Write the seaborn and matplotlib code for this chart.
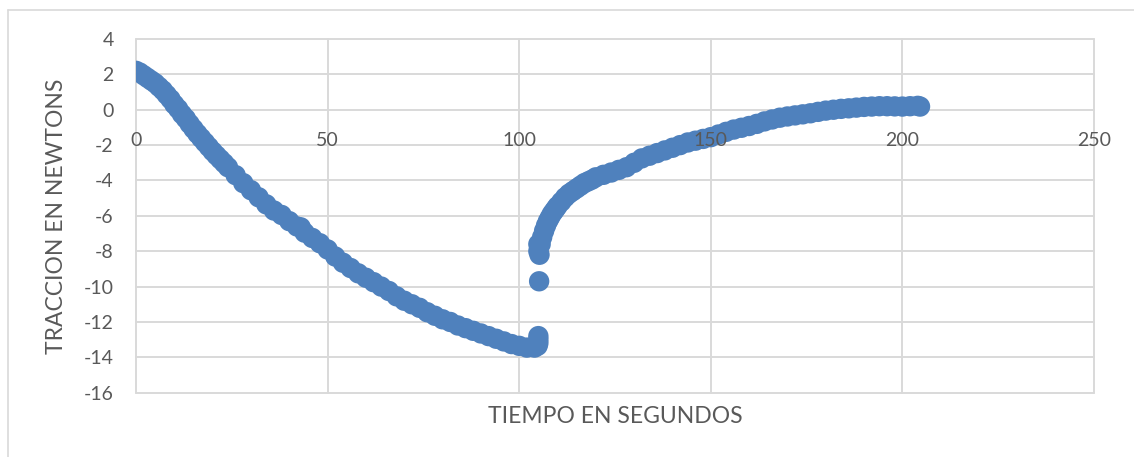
import numpy as np
import pandas as pd
import seaborn as sns
import matplotlib.pyplot as plt
from matplotlib.lines import Line2D

# Datos (tiempo en s, traccion en N)
tiempo_bajada = [0, 1, 2, 3, 4, 5, 6, 7, 8, 9, 10, 11, 12, 13, 14, 15, 16, 17, 18, 19, 20,
                 21, 22, 23, 24, 26, 28, 30, 32, 34, 36, 38, 40, 42, 43, 44, 46, 48, 50,
                 52, 54, 56, 58, 60, 62, 64, 66, 68, 70, 72, 74, 76, 78, 80, 82, 84, 86,
                 88, 90, 92, 94, 96, 98, 100, 102, 104, 104.8, 105, 105, 105]
traccion_bajada = [2.2, 2.1, 1.95, 1.8, 1.65, 1.5, 1.3, 1.1, 0.85, 0.6, 0.3, 0.05, -0.25,
                   -0.5, -0.8, -1.08, -1.35, -1.6, -1.85, -2.1, -2.35, -2.58, -2.8, -3.02,
                   -3.25, -3.7, -4.15, -4.55, -4.95, -5.35, -5.7, -5.95, -6.3, -6.6,
                   -6.65, -6.95, -7.25, -7.55, -7.9, -8.3, -8.65, -8.95, -9.25, -9.5,
                   -9.75, -10.0, -10.25, -10.55, -10.8, -11.0, -11.2, -11.45, -11.65,
                   -11.85, -12.0, -12.2, -12.35, -12.5, -12.65, -12.8, -12.95, -13.1,
                   -13.25, -13.35, -13.45, -13.45, -13.35, -13.2, -13.0, -12.8]

tiempo_salto = [105.2]
traccion_salto = [-9.7]

tiempo_subida = [105, 105, 105.3, 105.6, 106, 106.5, 107, 107.5, 108, 108.5, 109, 109.5,
                 110, 111, 112, 113, 114, 115, 116, 117, 118, 119, 120, 122, 124, 126,
                 128, 130, 132, 134, 136, 138, 140, 142, 144, 146, 148, 150, 152, 154,
                 156, 158, 160, 162, 164, 166, 168, 170, 172, 174, 176, 178, 180, 182,
                 184, 186, 188, 190, 192, 194, 196, 198, 200, 202, 204, 204.6]
traccion_subida = [-7.6, -8.0, -8.2, -7.6, -7.2, -6.85, -6.55, -6.3, -6.1, -5.9, -5.75,
                   -5.6, -5.45, -5.2, -4.95, -4.75, -4.6, -4.45, -4.3, -4.15, -4.05,
                   -3.95, -3.82, -3.68, -3.55, -3.4, -3.25, -3.0, -2.75, -2.6, -2.45,
                   -2.3, -2.15, -2.0, -1.85, -1.75, -1.65, -1.55, -1.4, -1.25, -1.12,
                   -1.02, -0.92, -0.8, -0.66, -0.55, -0.45, -0.38, -0.32, -0.26, -0.2,
                   -0.12, -0.05, 0.0, 0.05, 0.08, 0.12, 0.16, 0.18, 0.2, 0.2, 0.19, 0.18,
                   0.2, 0.22, 0.18]

x_ticks = [0, 50, 100, 150, 200, 250]
y_ticks = [-16, -14, -12, -10, -8, -6, -4, -2, 0, 2, 4]

df = pd.DataFrame({
    "tiempo": tiempo_bajada + tiempo_salto + tiempo_subida,
    "traccion": traccion_bajada + traccion_salto + traccion_subida,
})

sns.set_style("white")
plt.rcParams['font.family'] = ['Lato', 'DejaVu Sans']
plt.rcParams['axes.unicode_minus'] = False

gris = "#D9D9D9"
texto = "#595959"

fig = plt.figure(figsize=(11.34, 4.57), dpi=100)
ax = fig.add_axes([136 / 1134, 1 - 392.7 / 457, (1094 - 136) / 1134, (392.7 - 39) / 457])

# Cuadricula manual para que quede debajo de los puntos
for xv in x_ticks:
    ax.axvline(xv, color=gris, lw=1.4, zorder=0, clip_on=False)
for yv in y_ticks:
    ax.axhline(yv, color=gris, lw=1.4, zorder=0, clip_on=False)

sns.scatterplot(data=df, x="tiempo", y="traccion", ax=ax, color="#4F81BD",
                s=215, edgecolor="none", linewidth=0, zorder=1)

ax.set_xlim(0, 250)
ax.set_ylim(-16, 4)
ax.set_xticks(x_ticks)
ax.set_yticks(y_ticks)
ax.grid(False)
ax.set_axisbelow(False)  # etiquetas por encima de los puntos

for lado in ["top", "right", "left"]:
    ax.spines[lado].set_visible(False)
ax.spines["bottom"].set_position(("data", 0))
ax.spines["bottom"].set_color("none")

ax.tick_params(axis="both", length=0, labelsize=14, labelcolor=texto)
ax.tick_params(axis="x", pad=16)
ax.tick_params(axis="y", pad=16)

ax.set_xlabel("TIEMPO EN SEGUNDOS", fontsize=16.5, color=texto)
ax.set_ylabel("TRACCION EN NEWTONS", fontsize=16.5, color=texto)
ax.xaxis.set_label_coords(0.5, -0.037)
ax.yaxis.set_label_coords(-0.072, 0.5)

# Borde del area del grafico
fig.add_artist(Line2D([7.5 / 1134, 7.5 / 1134], [0, 1 - 9.5 / 457],
                      transform=fig.transFigure, color=gris, lw=1.2))
fig.add_artist(Line2D([7.5 / 1134, 1], [1 - 9.5 / 457, 1 - 9.5 / 457],
                      transform=fig.transFigure, color=gris, lw=1.2))

fig.savefig("out.png", dpi=100)
